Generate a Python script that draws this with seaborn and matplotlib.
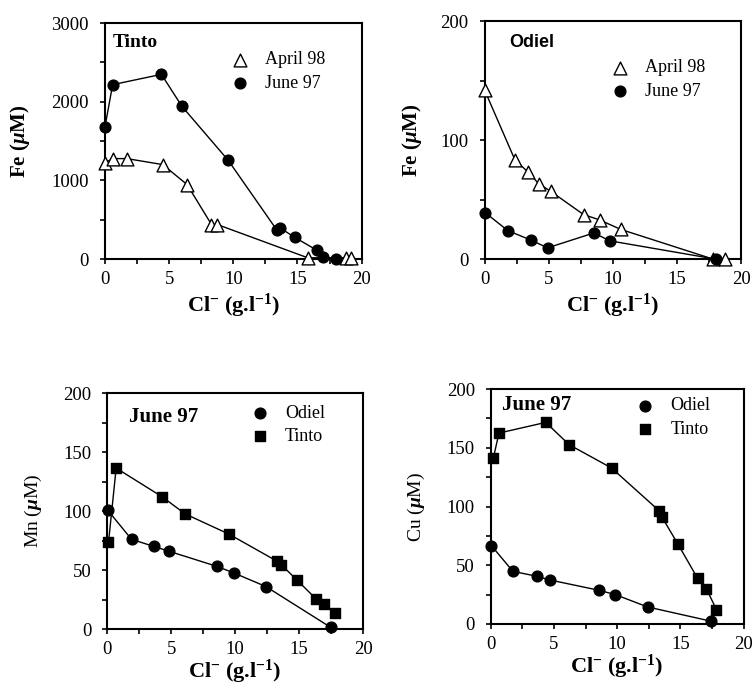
import numpy as np
import pandas as pd
import matplotlib
matplotlib.use("Agg")
import matplotlib.pyplot as plt
import seaborn as sns

# --- Fe, Tinto ---
tinto_jun_cl = [0.0, 0.6, 4.4, 6.0, 9.6, 13.4, 13.6, 14.8, 16.5, 17.0, 18.0]
tinto_jun_fe = [1680, 2218, 2349, 1942, 1257, 368, 402, 275, 114, 21, 4]
tinto_apr_cl = [0.0, 0.65, 1.7, 4.5, 6.4, 8.3, 8.75, 15.8, 18.8, 19.2]
tinto_apr_fe = [1227, 1278, 1278, 1202, 948, 440, 440, 17, 17, 17]

# --- Fe, Odiel ---
odiel_apr_cl = [0.0, 2.35, 3.4, 4.2, 5.15, 7.7, 8.95, 10.6, 17.8, 18.7]
odiel_apr_fe = [142, 83.6, 73, 63.5, 57, 37.5, 33, 25, 0, 0]
odiel_jun_cl = [0.05, 1.8, 3.6, 4.9, 8.5, 9.75, 18.0]
odiel_jun_fe = [39, 24, 16, 9.5, 22, 15.4, 0]

# --- Mn, June 97 ---
mn_odiel_cl = [0.05, 1.9, 3.65, 4.8, 8.6, 9.9, 12.4, 17.45]
mn_odiel = [100.6, 76, 70, 66, 53, 47.5, 36, 1.5]
mn_tinto_cl = [0.1, 0.7, 4.3, 6.1, 9.5, 13.3, 13.6, 14.8, 16.3, 16.95, 17.8]
mn_tinto = [73.4, 136.4, 112, 97.5, 80.5, 57.3, 54.5, 41.8, 25.7, 21, 13.6]

# --- Cu, June 97 ---
cu_odiel_cl = [0.05, 1.75, 3.65, 4.7, 8.55, 9.85, 12.4, 17.45]
cu_odiel = [66.7, 44.8, 40.6, 37.4, 28.7, 25, 14.5, 2.3]
cu_tinto_cl = [0.2, 0.65, 4.35, 6.2, 9.55, 13.3, 13.55, 14.8, 16.35, 17.05, 17.85]
cu_tinto = [141, 162.5, 171.6, 152.6, 132.8, 96.5, 90.8, 68, 39, 30, 12.2]

sns.set_style("ticks")
plt.rcParams["font.family"] = ["Liberation Serif", "DejaVu Serif"]
plt.rcParams["mathtext.fontset"] = "custom"
plt.rcParams["mathtext.rm"] = "Liberation Serif"
plt.rcParams["mathtext.it"] = "Liberation Serif:italic"
plt.rcParams["mathtext.bf"] = "Liberation Serif:bold"
plt.rcParams["mathtext.bfit"] = "Liberation Serif:bold:italic"
plt.rcParams["text.color"] = "black"
plt.rcParams["axes.labelcolor"] = "black"
plt.rcParams["axes.linewidth"] = 1.5
plt.rcParams["axes.edgecolor"] = "black"
for ax_ in ("xtick", "ytick"):
    plt.rcParams[f"{ax_}.direction"] = "out"
    plt.rcParams[f"{ax_}.major.size"] = 3.5
    plt.rcParams[f"{ax_}.minor.size"] = 3.5
    plt.rcParams[f"{ax_}.major.width"] = 1.2
    plt.rcParams[f"{ax_}.minor.width"] = 1.2
    plt.rcParams[f"{ax_}.color"] = "black"
    plt.rcParams[f"{ax_}.labelcolor"] = "black"
    plt.rcParams[f"{ax_}.labelsize"] = 13.5
plt.rcParams["xtick.major.pad"] = 5
plt.rcParams["ytick.major.pad"] = 8

fig = plt.figure(figsize=(7.55, 6.91), dpi=100)

XLAB = r"Cl$^{\mathbf{-}}$ (g.l$^{\mathbf{-1}}$)"


def series(ax, x, y, marker, open_marker=False, label=None, size=60):
    sns.lineplot(x=x, y=y, ax=ax, color="black", lw=1.0, sort=False,
                 estimator=None, clip_on=False)
    sns.scatterplot(x=x, y=y, ax=ax, marker=marker, s=size,
                    color="white" if open_marker else "black",
                    edgecolor="black", linewidth=1.0, label=label, zorder=3,
                    clip_on=False)


def style(ax, ymax, ystep, ylabel, ylabel_bold=True, ysize=15):
    ax.set_xlim(0, 20)
    ax.set_ylim(0, ymax)
    ax.set_xticks(np.arange(0, 21, 5))
    ax.set_xticks(np.arange(2.5, 20, 5), minor=True)
    ax.set_yticks(np.arange(0, ymax + 1, ystep))
    ax.set_yticks(np.arange(ystep / 2, ymax, ystep), minor=True)
    ax.set_xlabel(XLAB, fontsize=16, fontweight="bold")
    ax.set_ylabel(ylabel, fontsize=ysize,
                  fontweight="bold" if ylabel_bold else "normal")


def legend(ax, x, y):
    ax.legend(loc="upper left", bbox_to_anchor=(x, y), frameon=False,
              fontsize=13, handlelength=1.0, handletextpad=0.9,
              labelspacing=0.35, borderpad=0, borderaxespad=0)


# panel 1 - Tinto Fe
ax1 = fig.add_axes([0.139, 0.625, 0.340, 0.3415])
series(ax1, tinto_apr_cl, tinto_apr_fe, "^", open_marker=True, label="April 98", size=85)
series(ax1, tinto_jun_cl, tinto_jun_fe, "o", label="June 97")
style(ax1, 3000, 1000, r"Fe ($\mathbfit{\mu}$M)")
ax1.xaxis.labelpad = 3
ax1.yaxis.labelpad = 14
legend(ax1, 0.49, 0.88)
ax1.text(0.03, 0.92, "Tinto", transform=ax1.transAxes, fontsize=14,
         fontweight="bold", va="center")

# panel 2 - Odiel Fe
ax2 = fig.add_axes([0.642, 0.625, 0.340, 0.344])
series(ax2, odiel_apr_cl, odiel_apr_fe, "^", open_marker=True, label="April 98", size=85)
series(ax2, odiel_jun_cl, odiel_jun_fe, "o", label="June 97")
style(ax2, 200, 100, r"Fe ($\mathbfit{\mu}$M)")
ax2.xaxis.labelpad = 3
ax2.yaxis.labelpad = 12
legend(ax2, 0.49, 0.84)
ax2.text(0.095, 0.91, "Odiel", transform=ax2.transAxes, fontsize=13,
         fontweight="bold", va="center", family=["Liberation Sans"])

# panel 3 - Mn
ax3 = fig.add_axes([0.142, 0.0897, 0.339, 0.3415])
series(ax3, mn_odiel_cl, mn_odiel, "o", label="Odiel")
series(ax3, mn_tinto_cl, mn_tinto, "s", label="Tinto", size=55)
style(ax3, 200, 50, r"Mn ($\mathbfit{\mu}$M)", ylabel_bold=False, ysize=14)
ax3.xaxis.labelpad = 0
ax3.yaxis.labelpad = 14
legend(ax3, 0.56, 0.95)
ax3.text(0.086, 0.90, "June 97", transform=ax3.transAxes, fontsize=15,
         fontweight="bold", va="center")

# panel 4 - Cu
ax4 = fig.add_axes([0.650, 0.097, 0.335, 0.340])
series(ax4, cu_odiel_cl, cu_odiel, "o", label="Odiel")
series(ax4, cu_tinto_cl, cu_tinto, "s", label="Tinto", size=55)
style(ax4, 200, 50, r"Cu ($\mathbfit{\mu}$M)", ylabel_bold=False, ysize=14)
ax4.xaxis.labelpad = 0
ax4.yaxis.labelpad = 14
legend(ax4, 0.575, 0.965)
ax4.text(0.043, 0.93, "June 97", transform=ax4.transAxes, fontsize=15,
         fontweight="bold", va="center")

fig.savefig("out.png", dpi=100)
